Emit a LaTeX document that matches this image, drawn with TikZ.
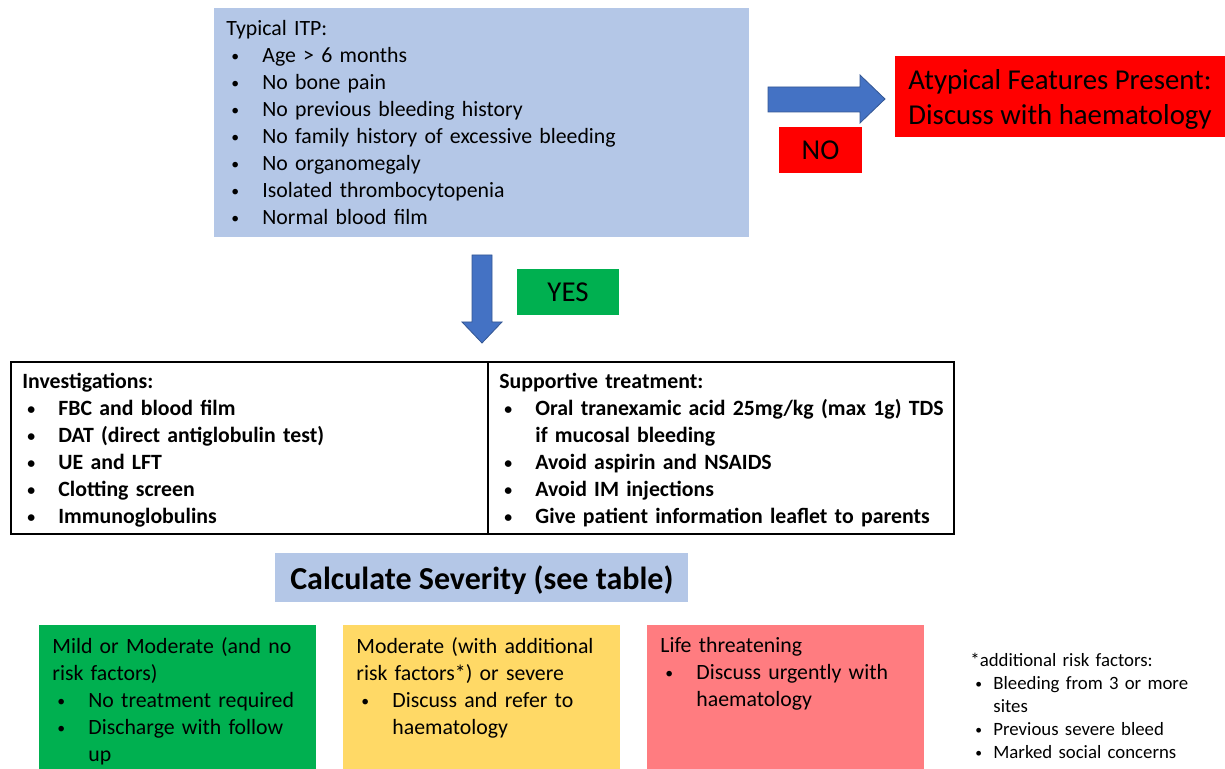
\documentclass[tikz,border=0pt]{standalone}
\usepackage{fontspec}
\setmainfont{Carlito}
\usetikzlibrary{positioning}
\definecolor{itpblue}{HTML}{B4C7E7}
\definecolor{arrowblue}{HTML}{4472C4}
\definecolor{alertred}{HTML}{FF0000}
\definecolor{yesgreen}{HTML}{00B050}
\definecolor{modyellow}{HTML}{FFD966}
\definecolor{lifepink}{HTML}{FF7C80}
\newcommand{\punto}{\raisebox{0.6pt}{\scalebox{0.72}{\textbullet}}}
\newcommand{\blt}{\makebox[18pt][l]{\hspace{2.5pt}\punto}}
\newcommand{\cnt}{\hspace*{18pt}}
\newcommand{\bls}{\makebox[11.5pt][l]{\hspace{2.5pt}\punto}}
\newcommand{\cns}{\hspace*{11.5pt}}
\tikzset{
    box_base/.style={rectangle, anchor=north west, inner sep=0pt, draw=none},
    txt_base/.style={anchor=north west, inner sep=0pt, align=left, text width=250pt, font=\fontsize{10.9}{13.5}\selectfont},
    flecha_bloque/.style={fill=arrowblue, draw=arrowblue!75!black, line width=0.4pt}
}
\begin{document}
\begin{tikzpicture}[
        x=0.5pt, y=-0.5pt,
        % Estilos de cajas
        box_itp/.style={box_base, fill=itpblue, minimum width=267.5pt, minimum height=114.5pt},
        box_alerta/.style={rectangle, fill=alertred, align=left, font=\fontsize{14.4}{17.5}\selectfont},
        box_si/.style={rectangle, fill=yesgreen, minimum width=51pt, minimum height=23pt, font=\fontsize{14.4}{17.5}\selectfont},
        box_tabla/.style={box_base, draw=black, line width=0.9pt, minimum height=86pt},
        box_sev/.style={box_base, fill=itpblue, minimum width=206.5pt, minimum height=24.5pt},
        box_grado/.style={box_base, minimum width=138.5pt, minimum height=72pt},
        txt_bold/.style={txt_base, font=\fontsize{10.9}{13.5}\selectfont\bfseries},
        txt_nota/.style={txt_base, text width=130pt, font=\fontsize{9.4}{11.5}\selectfont}
    ]
    \useasboundingbox (0,0) rectangle (1225,769);

    % 1. Caja superior (ITP tipica)
    \node[box_itp] (itp) at (214,8) {};
    \node[txt_base] (itp_txt) at (226,20) {Typical ITP:\\
        \blt Age > 6 months\\
        \blt No bone pain\\
        \blt No previous bleeding history\\
        \blt No family history of excessive bleeding\\
        \blt No organomegaly\\
        \blt Isolated thrombocytopenia\\
        \blt Normal blood film};

    % 2. Rama NO
    \node[box_alerta, minimum width=165pt, minimum height=40.5pt] (atipico) at (1060,96.5) {};
    \node[box_alerta, inner sep=0pt] (atipico_txt) at ([yshift=-1.5pt]atipico.center) {Atypical Features Present:\\ Discuss with haematology};
    \node[box_alerta, minimum width=41.5pt, minimum height=23pt, align=center] (no_lbl) at (820.5,150) {NO};

    % 3. Rama SI
    \node[box_si] (si_lbl) at (568,292) {YES};

    % 4. Tabla de investigaciones / tratamiento
    \node[box_tabla, minimum width=238.5pt] (inv) at (10,361) {};
    \node[box_tabla, minimum width=233pt] (sop) at (487,361) {};
    \node[txt_bold] (inv_txt) at (22,373) {Investigations:\\
        \blt FBC and blood film\\
        \blt DAT (direct antiglobulin test)\\
        \blt UE and LFT\\
        \blt Clotting screen\\
        \blt Immunoglobulins};
    \node[txt_bold] (sop_txt) at (499,373) {Supportive treatment:\\
        \blt Oral tranexamic acid 25mg/kg (max 1g) TDS\\
        \cnt if mucosal bleeding\\
        \blt Avoid aspirin and NSAIDS\\
        \blt Avoid IM injections\\
        \blt Give patient information leaflet to parents};

    % 5. Severidad
    \node[box_sev] (sev) at (275,553) {};
    \node[font=\fontsize{16}{19}\selectfont\bfseries] (sev_txt) at ([yshift=-1pt]sev.center) {Calculate Severity (see table)};

    % 6. Grados de severidad
    \node[box_grado, fill=yesgreen] (leve) at (39,625) {};
    \node[box_grado, fill=modyellow] (mod) at (343,625) {};
    \node[box_grado, fill=lifepink] (vida) at (647,625) {};
    \node[txt_base] (leve_txt) at (52,637) {Mild or Moderate (and no\\
        risk factors)\\
        \blt No treatment required\\
        \blt Discharge with follow\\
        \cnt up};
    \node[txt_base] (mod_txt) at (356,637) {Moderate (with additional\\
        risk factors*) or severe\\
        \blt Discuss and refer to\\
        \cnt haematology};
    \node[txt_base] (vida_txt) at (660,637) {Life threatening\\
        \blt Discuss urgently with\\
        \cnt haematology};

    % 7. Nota de factores de riesgo
    \node[txt_nota] (nota) at (970,653) {*additional risk factors:\\
        \bls Bleeding from 3 or more\\
        \cns sites\\
        \bls Previous severe bleed\\
        \bls Marked social concerns};

    % --- FLECHAS ---

    % Flecha NO hacia la derecha
    \draw[flecha_bloque] (768,87) -- (860,87) -- (860,75) -- (885,99) -- (860,123) -- (860,112) -- (768,112) -- cycle;

    % Flecha SI hacia abajo
    \draw[flecha_bloque] (472,255) -- (492,255) -- (492,322) -- (502,322) -- (482,343) -- (462,322) -- (472,322) -- cycle;

\end{tikzpicture}
\end{document}
